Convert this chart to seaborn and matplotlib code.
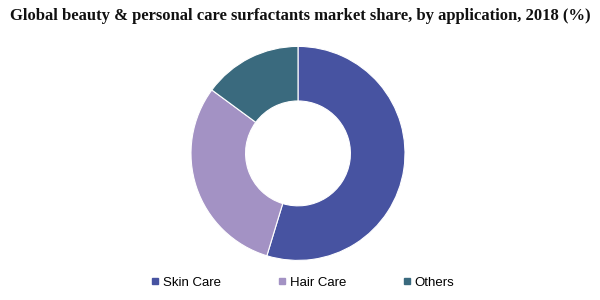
import matplotlib
matplotlib.use("Agg")
import matplotlib.pyplot as plt
from matplotlib.lines import Line2D
import seaborn as sns

categories = ["Skin Care", "Hair Care", "Others"]
shares = [54.7, 30.4, 14.9]
colors = ["#4753A1", "#A392C4", "#3A6A7E"]
title = "Global beauty & personal care surfactants market share, by application, 2018 (%)"

sns.set_theme(style="white")
plt.rcParams["font.family"] = ["Liberation Sans", "DejaVu Sans"]

fig = plt.figure(figsize=(6, 3), dpi=100)
ax = fig.add_axes([0.3183, 0.132, 0.3567, 0.7133])
ax.pie(shares, colors=colors, startangle=90, counterclock=False,
       wedgeprops=dict(width=0.51, edgecolor="white", linewidth=0.8))
ax.set_xlim(-1, 1)
ax.set_ylim(-1, 1)
ax.set_aspect("equal")
ax.axis("off")

fig.text(0.5, 0.945, title, ha="center", va="center", fontsize=12.0,
         fontweight="bold", family=["Liberation Serif", "DejaVu Serif"], color="#111111")

handles = [Line2D([0], [0], marker="s", linestyle="none", markersize=5,
                  markerfacecolor=c, markeredgecolor=c) for c in colors]
fig.legend(handles, categories, loc="center", bbox_to_anchor=(0.505, 0.057),
           ncol=3, frameon=False, fontsize=9.5, handlelength=0.6,
           handletextpad=0.3, columnspacing=4.3, labelcolor="black")

fig.savefig("out.png", dpi=100)
